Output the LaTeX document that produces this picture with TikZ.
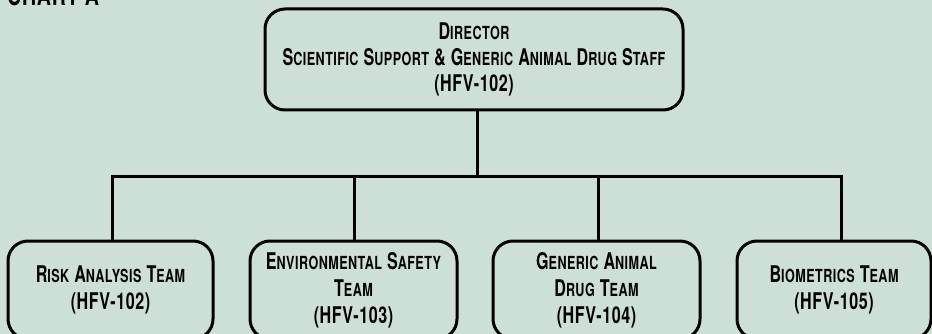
\documentclass[tikz,border=0pt]{standalone}
\usepackage{fontspec}
\setmainfont{TeX Gyre Heros}[FakeStretch=0.70, LetterSpace=2.5]
\definecolor{bg}{HTML}{CDE0D5}
\newcommand\bigsz{\fontsize{23}{26}\selectfont}
\newcommand\smsz{\fontsize{18}{26}\selectfont}
\newcommand\sck[2]{{\bigsz #1}{\smsz #2}}
\tikzset{
  orgbox/.style={draw=black, line width=3pt, rounded corners=20pt, align=center,
    font=\bfseries\bigsz, inner sep=0pt},
  childbox/.style={orgbox, minimum height=98pt, font=\bfseries\fontsize{23}{27}\selectfont},
  link/.style={draw=black, line width=3pt},
}
\begin{document}
\begin{tikzpicture}[x=1pt,y=-1pt]
\useasboundingbox (0,0) rectangle (932,334);
\fill[bg] (0,0) rectangle (932,334);
\clip (0,0) rectangle (932,334);
\node[anchor=base west, inner sep=0pt, font=\bfseries\fontsize{28}{32}\selectfont] (title) at (7,6) {CHART A};
\node[orgbox, minimum width=418pt, minimum height=101pt] (top) at (474,59.5)
  {\sck{D}{IRECTOR}\\
   \sck{S}{CIENTIFIC} \sck{S}{UPPORT} {\bigsz\&} \sck{G}{ENERIC} \sck{A}{NIMAL} \sck{D}{RUG} \sck{S}{TAFF}\\
   (HFV-102)};
\node[childbox, minimum width=205pt] (c1) at (110.5,290) {\sck{R}{ISK} \sck{A}{NALYSIS} \sck{T}{EAM}\\(HFV-102)};
\node[childbox, minimum width=207pt] (c2) at (353.5,290) {\sck{E}{NVIRONMENTAL} \sck{S}{AFETY}\\\sck{T}{EAM}\\(HFV-103)};
\node[childbox, minimum width=207pt] (c3) at (596.5,290) {\sck{G}{ENERIC} \sck{A}{NIMAL}\\\sck{D}{RUG} \sck{T}{EAM}\\(HFV-104)};
\node[childbox, minimum width=194pt] (c4) at (834,290) {\sck{B}{IOMETRICS} \sck{T}{EAM}\\(HFV-105)};
\coordinate (j0) at (477,177);
\coordinate (j1) at (112,177);
\coordinate (j2) at (354,177);
\coordinate (j3) at (598,177);
\coordinate (j4) at (841,177);
\draw[link] (j0 |- top.south) -- (j0);
\draw[link, line cap=rect] (j1) -- (j4);
\draw[link] (j1) -- (j1 |- c1.north);
\draw[link] (j2) -- (j2 |- c2.north);
\draw[link] (j3) -- (j3 |- c3.north);
\draw[link] (j4) -- (j4 |- c4.north);
\end{tikzpicture}
\end{document}
